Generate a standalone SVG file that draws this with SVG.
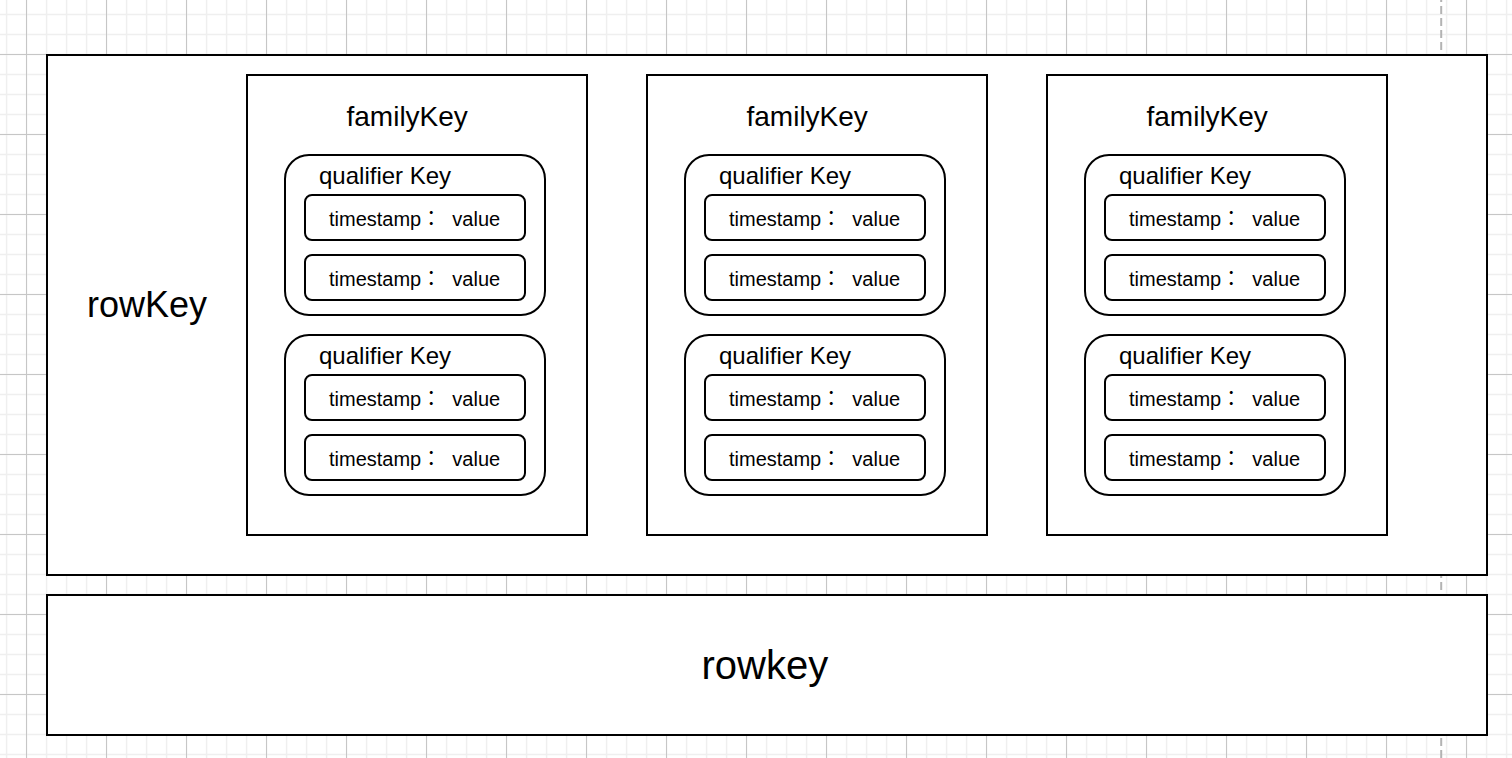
<svg xmlns="http://www.w3.org/2000/svg" width="1512" height="758" viewBox="0 0 1512 758">
<defs>
<pattern id="minor" patternUnits="userSpaceOnUse" x="0" y="0" width="20" height="20">
<path d="M6.6 0V20M0 14.5H20" stroke="#efefef" stroke-width="1.5" fill="none"/>
</pattern>
<pattern id="major" patternUnits="userSpaceOnUse" x="0" y="0" width="80" height="80">
<path d="M26.5 0V80M0 54.5H80" stroke="#c6c6c6" stroke-width="1" fill="none"/>
</pattern>
<style>
.box{fill:#fff;stroke:#000;stroke-width:2}
.t{font-family:"Liberation Sans",Arial,"Noto Sans CJK JP",sans-serif;fill:#000}
.fam{font-size:28px}
.qual{font-size:24px}
.ts{font-size:20px;white-space:pre}
</style>
</defs>
<g id="background">
<rect width="1512" height="758" fill="#fff"/>
<rect width="1512" height="758" fill="url(#minor)"/>
<rect width="1512" height="758" fill="url(#major)"/>
<line x1="1441.2" y1="0" x2="1441.2" y2="758" stroke="#b3b3b3" stroke-width="2" stroke-dasharray="8 4" stroke-dashoffset="6"/>
</g>
<g id="row">
<rect class="box" x="47" y="55" width="1440" height="520"/>
<text class="t" x="87" y="316.7" font-size="36">rowKey</text>
</g>
<g id="family1">
<rect class="box" x="247" y="75" width="340" height="460"/>
<text class="t fam" x="346.5" y="125.7">familyKey</text>
<g id="family1-q1">
<rect class="box" x="285" y="155" width="260" height="160" rx="24"/>
<text class="t qual" x="319" y="183.5">qualifier Key</text>
<rect class="box" x="305" y="195" width="220" height="45" rx="7"/>
<text class="t ts" x="329" y="226" xml:space="preserve">timestamp：  value</text>
<rect class="box" x="305" y="255" width="220" height="45" rx="7"/>
<text class="t ts" x="329" y="286" xml:space="preserve">timestamp：  value</text>
</g>
<g id="family1-q2">
<rect class="box" x="285" y="335" width="260" height="160" rx="24"/>
<text class="t qual" x="319" y="363.5">qualifier Key</text>
<rect class="box" x="305" y="375" width="220" height="45" rx="7"/>
<text class="t ts" x="329" y="406" xml:space="preserve">timestamp：  value</text>
<rect class="box" x="305" y="435" width="220" height="45" rx="7"/>
<text class="t ts" x="329" y="466" xml:space="preserve">timestamp：  value</text>
</g>
</g>
<g id="family2">
<rect class="box" x="647" y="75" width="340" height="460"/>
<text class="t fam" x="746.5" y="125.7">familyKey</text>
<g id="family2-q1">
<rect class="box" x="685" y="155" width="260" height="160" rx="24"/>
<text class="t qual" x="719" y="183.5">qualifier Key</text>
<rect class="box" x="705" y="195" width="220" height="45" rx="7"/>
<text class="t ts" x="729" y="226" xml:space="preserve">timestamp：  value</text>
<rect class="box" x="705" y="255" width="220" height="45" rx="7"/>
<text class="t ts" x="729" y="286" xml:space="preserve">timestamp：  value</text>
</g>
<g id="family2-q2">
<rect class="box" x="685" y="335" width="260" height="160" rx="24"/>
<text class="t qual" x="719" y="363.5">qualifier Key</text>
<rect class="box" x="705" y="375" width="220" height="45" rx="7"/>
<text class="t ts" x="729" y="406" xml:space="preserve">timestamp：  value</text>
<rect class="box" x="705" y="435" width="220" height="45" rx="7"/>
<text class="t ts" x="729" y="466" xml:space="preserve">timestamp：  value</text>
</g>
</g>
<g id="family3">
<rect class="box" x="1047" y="75" width="340" height="460"/>
<text class="t fam" x="1146.5" y="125.7">familyKey</text>
<g id="family3-q1">
<rect class="box" x="1085" y="155" width="260" height="160" rx="24"/>
<text class="t qual" x="1119" y="183.5">qualifier Key</text>
<rect class="box" x="1105" y="195" width="220" height="45" rx="7"/>
<text class="t ts" x="1129" y="226" xml:space="preserve">timestamp：  value</text>
<rect class="box" x="1105" y="255" width="220" height="45" rx="7"/>
<text class="t ts" x="1129" y="286" xml:space="preserve">timestamp：  value</text>
</g>
<g id="family3-q2">
<rect class="box" x="1085" y="335" width="260" height="160" rx="24"/>
<text class="t qual" x="1119" y="363.5">qualifier Key</text>
<rect class="box" x="1105" y="375" width="220" height="45" rx="7"/>
<text class="t ts" x="1129" y="406" xml:space="preserve">timestamp：  value</text>
<rect class="box" x="1105" y="435" width="220" height="45" rx="7"/>
<text class="t ts" x="1129" y="466" xml:space="preserve">timestamp：  value</text>
</g>
</g>
<g id="rowkey">
<rect class="box" x="47" y="595" width="1440" height="140"/>
<text class="t" x="701.5" y="679" font-size="40">rowkey</text>
</g>
<g id="connectors"/>
</svg>
